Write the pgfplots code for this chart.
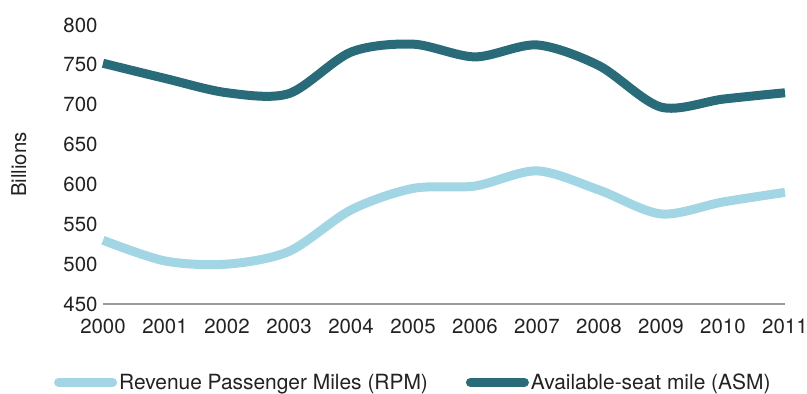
\documentclass[border=0pt]{standalone}
\usepackage{fontspec}
\setmainfont{TeX Gyre Heros}
\usepackage{pgfplots}
\pgfplotsset{compat=1.18}

\definecolor{asm}{HTML}{2A6B7A}
\definecolor{rpm}{HTML}{A2D6E4}
\definecolor{txt}{HTML}{222222}
\definecolor{axisgray}{HTML}{9A9A9A}

\begin{document}
\begin{tikzpicture}
\path[use as bounding box] (-103bp,-90bp) rectangle (704bp,304bp);
\begin{axis}[
  scale only axis,
  width=682bp, height=279bp,
  xmin=2000, xmax=2011,
  ymin=450, ymax=800,
  xtick={2000,...,2011},
  ytick={450,500,...,800},
  x tick label style={/pgf/number format/1000 sep={}},
  /pgf/number format/assume math mode=true,
  ticklabel style={font=\fontsize{20.5}{23}\selectfont, text=txt},
  major tick length=0pt,
  axis x line*=bottom,
  axis y line*=left,
  x axis line style={axisgray, line width=1.5bp, -},
  y axis line style={draw=none},
  tick style={draw=none},
  yticklabel style={xshift=-2bp},
  xticklabel style={yshift=-11bp},
  ylabel={Billions},
  ylabel style={font=\fontsize{20.5}{23}\selectfont, text=txt, at={(ticklabel* cs:0.5,73bp)}},
  clip=false,
  legend columns=2,
  legend style={draw=none, at={(0.455,-0.235)}, anchor=north,
    font=\fontsize{21}{24}\selectfont, text=txt,
    /tikz/every odd column/.append style={inner xsep=0pt},
    /tikz/every even column/.append style={column sep=36bp, inner xsep=1bp}},
  legend cell align=left,
  legend image code/.code={\draw[#1, line cap=round] (0bp,0bp) -- (54bp,0bp);},
]
\addplot[rpm, line width=9bp, smooth] coordinates {
  (2000,530) (2001,504) (2002,500) (2003,516) (2004,568) (2005,595)
  (2006,598) (2007,617) (2008,593) (2009,563) (2010,578) (2011,590)};
\addlegendentry{Revenue Passenger Miles (RPM)}
\addplot[asm, line width=9bp, smooth] coordinates {
  (2000,752) (2001,733) (2002,715) (2003,714) (2004,766) (2005,776)
  (2006,760) (2007,775) (2008,749) (2009,697) (2010,707) (2011,715)};
\addlegendentry{Available-seat mile (ASM)}
\end{axis}
\end{tikzpicture}
\end{document}
